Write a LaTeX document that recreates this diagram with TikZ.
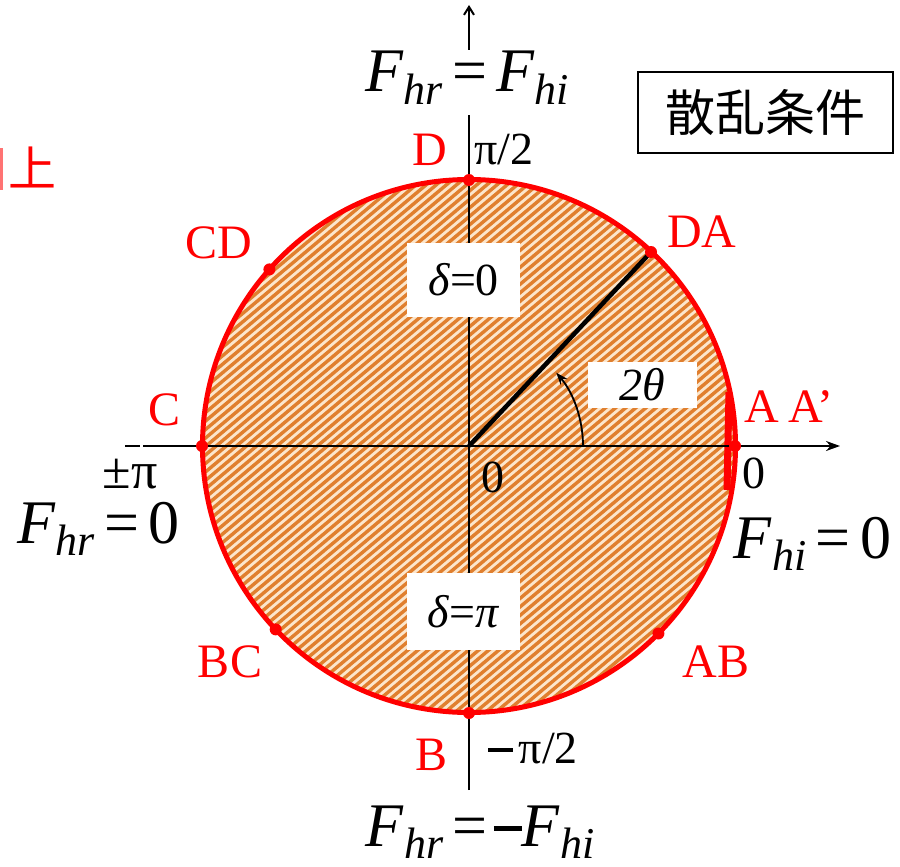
\documentclass[tikz,border=0pt]{standalone}
\usepackage{fontspec}
\setmainfont{Liberation Serif}
\newfontfamily\cjk{Noto Sans CJK JP}
\usetikzlibrary{arrows.meta}
\definecolor{peach}{HTML}{FCE6CC}
\definecolor{stripeor}{HTML}{E07F2E}
\newcommand\Fsub[2]{\textit{F}\raisebox{-0.2em}{\fontsize{#2}{#2}\selectfont\textit{#1}}}
\begin{document}
\begin{tikzpicture}[x=1pt,y=-1pt,
  redlbl/.style={text=red,inner sep=0pt,anchor=base,font=\fontsize{48}{48}\selectfont},
  blklbl/.style={text=black,inner sep=0pt,anchor=base,font=\fontsize{46}{46}\selectfont},
  eqlbl/.style={text=black,inner sep=0pt,anchor=base,font=\fontsize{62}{62}\selectfont},
  reddot/.style={circle,fill=red,inner sep=0pt,minimum size=12pt},
  whitebox/.style={fill=white,inner sep=0pt,font=\fontsize{46}{46}\selectfont},
  axis/.style={black,line width=2pt},
  stripe/.style={stripeor,line width=3.4pt}]
\useasboundingbox (0,0) rectangle (900,867);
\coordinate (O) at (469,446);
% hatched disc
\begin{scope}
\clip (O) circle (266.5pt);
\fill[peach] (O) circle (267pt);
\foreach \k in {-46,...,46}{
  \draw[stripe] ({469+\k*4.18-229.8},{446+\k*4.98+192.9}) -- ({469+\k*4.18+229.8},{446+\k*4.98-192.9});
}
\end{scope}
\draw[red,line width=5pt] (O) circle (266.5pt);
\draw[red,line width=7pt] (729,392) -- (727,490);
% axes
\coordinate (xl0) at (125,446);
\coordinate (xl1) at (140,446);
\coordinate (xl2) at (143,446);
\coordinate (xr) at (840,446);
\coordinate (yb) at (469,790);
\coordinate (yt1) at (469,115);
\coordinate (yt2) at (469,50);
\coordinate (yt3) at (469,5);
\draw[axis] (xl0) -- (xl1);
\draw[axis,-{Stealth[length=14pt,width=10pt]}] (xl2) -- (xr);
\draw[axis] (yb) -- (yt1);
\draw[axis,-{Straight Barb[length=8pt,width=10pt]}] (yt2) -- (yt3);
% radius line
\coordinate (DAp) at (651,252);
\draw[black,line width=4.5pt] (O) -- (DAp);
\draw[black,line width=1.8pt,-{Stealth[length=12pt,width=9pt]}] (583,446) arc[start angle=0,end angle=40,radius=114pt];
% boxes
\node[whitebox,minimum width=113pt,minimum height=74pt] (d0) at (463.5,280) {\textit{δ}=0};
\node[whitebox,minimum width=113pt,minimum height=77pt] (dpi) at (463.5,611.5) {\textit{δ}=\textit{π}};
\node[whitebox,minimum width=109pt,minimum height=46pt] (th) at (642.5,385) {\textit{2θ}};
\node[draw=black,line width=1.5pt,inner sep=0pt,minimum width=255pt,minimum height=81pt,font=\cjk\fontsize{50}{50}\selectfont] (title) at (765.5,112.5) {散乱条件};
\node[text=red,inner sep=0pt,font=\cjk\fontsize{48}{48}\selectfont] (same) at (33,167) {上};
\fill[red!55] (0,148) rectangle (2.5,190);
% dots
\node[reddot] (pD) at (469,180) {};
\node[reddot] (pDA) at (DAp) {};
\node[reddot] (pCD) at (269.4,269.4) {};
\node[reddot] (pC) at (202,446) {};
\node[reddot] (pBC) at (275.7,629.4) {};
\node[reddot] (pB) at (469,713) {};
\node[reddot] (pAB) at (658.4,633.5) {};
\node[reddot] (pA) at (735,446) {};
% red labels
\node[redlbl] (lD) at (430,165) {D};
\node[redlbl] (lDA) at (702,247) {DA};
\node[redlbl] (lCD) at (219,258) {CD};
\node[redlbl] (lC) at (165,425) {C};
\node[redlbl] (lA) at (762,422) {A};
\node[redlbl] (lA2) at (811,422) {A’};
\node[redlbl] (lBC) at (230,677) {BC};
\node[redlbl] (lAB) at (716,677) {AB};
\node[redlbl] (lB) at (432,770) {B};
% black labels
\node[blklbl] (pi2) at (504,164) {π/2};
\node[blklbl] (mpi2) at (533,763) {\rule[0.25em]{0.55em}{0.07em}\hspace{0.12em}π/2};
\node[blklbl,font=\fontsize{52}{52}\selectfont] (pmpi) at (130,488) {±π};
\node[blklbl] (z0) at (493,492) {0};
\node[blklbl] (z1) at (754,488) {0};
% equations
\node[eqlbl] (etop) at (467,92) {\Fsub{hr}{44}\hspace{0.15em}=\hspace{0.15em}\Fsub{hi}{44}};
\node[eqlbl] (ebot) at (480,846) {\Fsub{hr}{44}\hspace{0.15em}=\hspace{0.1em}\rule[0.25em]{0.45em}{0.07em}\Fsub{hi}{44}};
\node[eqlbl] (eleft) at (98.5,543) {\Fsub{hr}{44}\hspace{0.15em}=\hspace{0.15em}0};
\node[eqlbl] (eright) at (812.5,558) {\Fsub{hi}{44}\hspace{0.15em}=\hspace{0.15em}0};
\end{tikzpicture}
\end{document}
